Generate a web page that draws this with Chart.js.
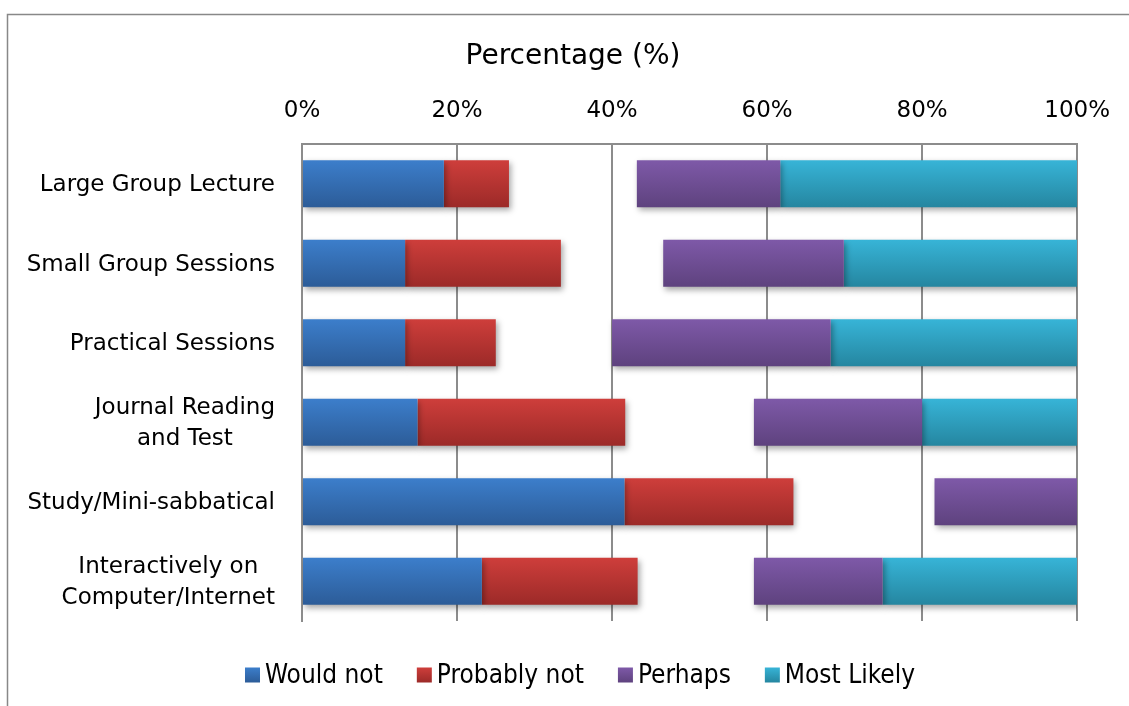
<!DOCTYPE html>
<html>
<head>
<meta charset="utf-8">
<title>Percentage (%)</title>
<script src="https://cdn.jsdelivr.net/npm/chart.js@4.4.1/dist/chart.umd.min.js"></script>
<style>
    html, body { margin: 0; padding: 0; background: #fff; }
    #wrap { width: 1129px; height: 706px; position: relative; }
</style>
</head>
<body>
<div id="wrap"><canvas id="myChart"></canvas></div>
<script>
// survey rows, top to bottom
var categories = [
    ['Large Group Lecture'],
    ['Small Group Sessions'],
    ['Practical Sessions'],
    ['Journal Reading', 'and Test'],
    ['Study/Mini-sabbatical'],
    ['Interactively on', 'Computer/Internet']
];
var wouldNot    = [18.3, 13.3, 13.3, 14.9, 41.6, 23.2];
var probablyNot = [ 8.4, 20.1, 11.7, 26.8, 21.8, 20.1];
// invisible segment that splits the negative and positive answers
var spacer      = [16.5, 13.2, 15.0, 16.6, 18.2, 15.0];
var perhaps     = [18.5, 23.3, 28.2, 21.7, 18.4, 16.6];
var mostLikely  = [38.3, 30.1, 31.8, 20.0,  0.0, 25.1];
var xTicks = [0, 20, 40, 60, 80, 100];
var axisTitle = 'Percentage (%)';

var barPct = 0.59;
var gridGray = '#8c8c8c';
var labelFont = '23px "DejaVu Sans", Verdana, sans-serif';
var titleFont = '28px "DejaVu Sans", Verdana, sans-serif';
var legendFont = '26px "DejaVu Sans Condensed", "DejaVu Sans", sans-serif';

var shades = {
    wouldNot:    ['#3c7ecb', '#2c5c98'],
    probablyNot: ['#ce3e3b', '#9c2a28'],
    perhaps:     ['#7e59a8', '#5e427e'],
    mostLikely:  ['#37b4d7', '#2586a0']
};

function fillFor(pair) {
    return function (context) {
        var chart = context.chart;
        var area = chart.chartArea;
        if (!area || context.type !== 'data') return pair[0];
        var c = chart.scales.y.getPixelForValue(context.dataIndex);
        var half = (area.height / categories.length) * barPct / 2;
        var g = chart.ctx.createLinearGradient(0, c - half, 0, c + half);
        g.addColorStop(0, pair[0]);
        g.addColorStop(1, pair[1]);
        return g;
    };
}

var datasets = [
    { label: 'Would not', data: wouldNot, backgroundColor: fillFor(shades.wouldNot), shade: shades.wouldNot },
    { label: 'Probably not', data: probablyNot, backgroundColor: fillFor(shades.probablyNot), shade: shades.probablyNot },
    { label: 'spacer', data: spacer, backgroundColor: 'rgba(0,0,0,0)', hideInLegend: true },
    { label: 'Perhaps', data: perhaps, backgroundColor: fillFor(shades.perhaps), shade: shades.perhaps },
    { label: 'Most Likely', data: mostLikely, backgroundColor: fillFor(shades.mostLikely), shade: shades.mostLikely }
];
datasets.forEach(function (d) {
    d.barPercentage = barPct;
    d.categoryPercentage = 1;
    d.borderWidth = 0;
});

// white page and the outer grey frame
var frame = {
    id: 'frame',
    beforeDraw: function (chart) {
        var ctx = chart.ctx;
        ctx.save();
        ctx.fillStyle = '#fff';
        ctx.fillRect(0, 0, chart.width, chart.height);
        ctx.strokeStyle = '#888';
        ctx.lineWidth = 1.5;
        ctx.strokeRect(7.5, 14.5, chart.width + 50, chart.height + 50);
        ctx.restore();
    }
};

// soft drop shadow under the bars
var barShadow = {
    id: 'barShadow',
    beforeDatasetsDraw: function (chart) {
        var ctx = chart.ctx;
        ctx.save();
        ctx.shadowColor = 'rgba(0,0,0,0.35)';
        ctx.shadowBlur = 6;
        ctx.shadowOffsetX = 2;
        ctx.shadowOffsetY = 3;
    },
    afterDatasetsDraw: function (chart) {
        chart.ctx.restore();
    }
};

// axis title, category names (centred lines, right aligned block) and the bottom legend
var sideText = {
    id: 'sideText',
    afterDraw: function (chart) {
        var ctx = chart.ctx;
        var yScale = chart.scales.y;
        ctx.save();
        ctx.fillStyle = '#000';
        ctx.textBaseline = 'middle';

        ctx.font = titleFont;
        ctx.textAlign = 'center';
        ctx.fillText(axisTitle, 573, 57);

        ctx.font = labelFont;
        var lineH = 31;
        categories.forEach(function (lines, i) {
            var maxW = 0;
            lines.forEach(function (t) { maxW = Math.max(maxW, ctx.measureText(t).width); });
            var cx = 275 - maxW / 2;
            var cy = yScale.getPixelForValue(i) + 1.5 - (lines.length - 1) * lineH / 2;
            lines.forEach(function (t, k) { ctx.fillText(t, cx, cy + k * lineH); });
        });

        // legend
        ctx.font = legendFont;
        ctx.textAlign = 'left';
        var items = datasets.filter(function (d) { return !d.hideInLegend; });
        var box = 15, gap = 5, space = 34;
        var total = 0;
        items.forEach(function (d, i) {
            total += box + gap + ctx.measureText(d.label).width + (i < items.length - 1 ? space : 0);
        });
        var x = 580 - total / 2;
        var ly = 675;
        items.forEach(function (d) {
            var g = ctx.createLinearGradient(0, ly - box / 2, 0, ly + box / 2);
            g.addColorStop(0, d.shade[0]);
            g.addColorStop(1, d.shade[1]);
            ctx.fillStyle = g;
            ctx.fillRect(x, ly - box / 2, box, box);
            x += box + gap;
            ctx.fillStyle = '#000';
            ctx.fillText(d.label, x, ly + 1);
            x += ctx.measureText(d.label).width + space;
        });
        ctx.restore();
    }
};

var config = {
    type: 'bar',
    data: { labels: categories, datasets: datasets },
    options: {
        indexAxis: 'y',
        responsive: true,
        maintainAspectRatio: false,
        animation: false,
        layout: { padding: { left: 0, right: 51, top: 0, bottom: 85 } },
        plugins: {
            legend: { display: false },
            tooltip: { enabled: false }
        },
        scales: {
            x: {
                position: 'top',
                stacked: true,
                min: 0,
                max: 100,
                afterBuildTicks: function (scale) {
                    scale.ticks = xTicks.map(function (v) { return { value: v }; });
                },
                afterFit: function (scale) { scale.height = 144; },
                ticks: {
                    color: '#000',
                    padding: 19,
                    font: { family: '"DejaVu Sans", Verdana, sans-serif', size: 23 },
                    callback: function (v) { return v + '%'; }
                },
                grid: { color: gridGray, lineWidth: 2, drawTicks: false },
                border: { display: true, color: gridGray, width: 2 },
                title: { display: false }
            },
            y: {
                stacked: true,
                afterFit: function (scale) { scale.width = 302; },
                ticks: { display: false },
                grid: { display: false },
                border: { display: true, color: gridGray, width: 2 }
            }
        }
    },
    plugins: [frame, barShadow, sideText]
};

var myChart = new Chart(document.getElementById('myChart'), config);
</script>
</body>
</html>
